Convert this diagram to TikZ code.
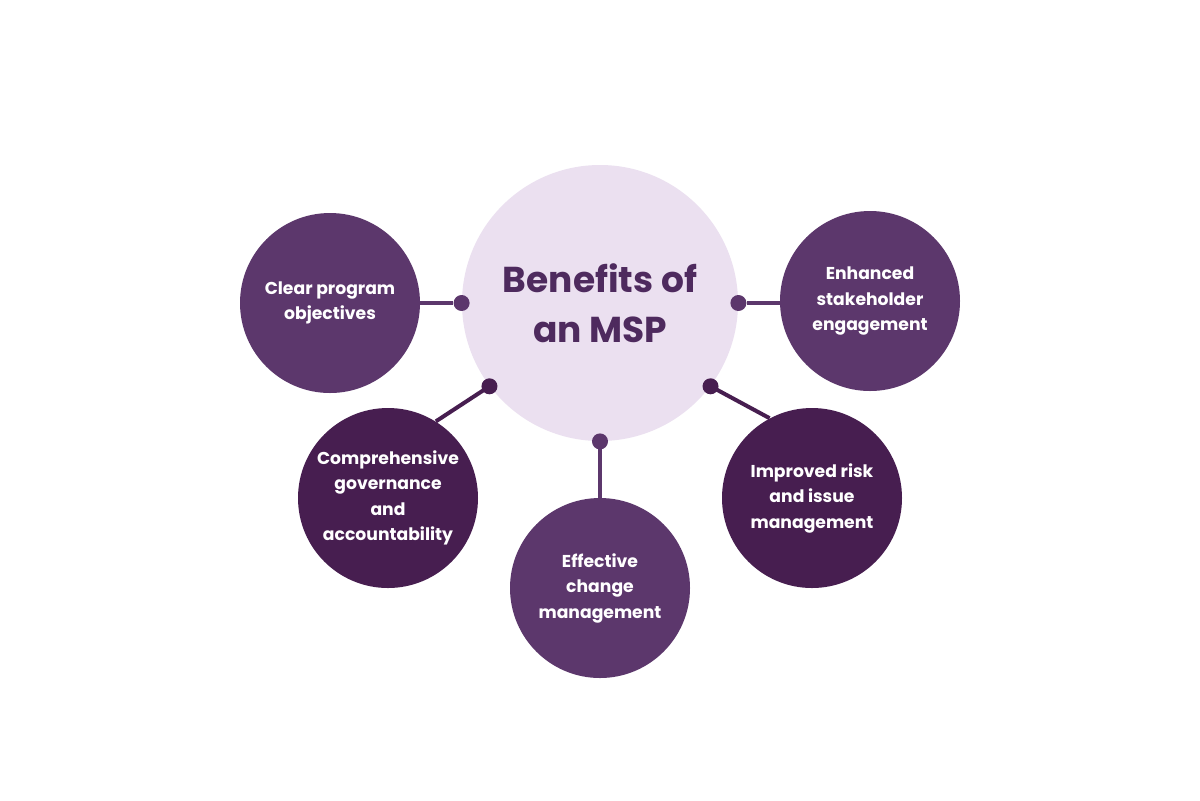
\documentclass[tikz,border=0pt]{standalone}
\usepackage{fontspec}
\setmainfont{Poppins}
\definecolor{pl}{HTML}{5C376C}
\definecolor{pd}{HTML}{471E50}
\definecolor{cen}{HTML}{EBE0F0}
\definecolor{ttl}{HTML}{4E2A5E}
\begin{document}
\begin{tikzpicture}[x=0.5pt,y=-0.5pt,
  outer/.style={circle, minimum size=90pt, inner sep=0pt, text=white,
    font=\fontsize{8.6}{12.75}\selectfont\bfseries, align=center},
  dotn/.style={circle, minimum size=8pt, inner sep=0pt},
  conn/.style={line width=2pt}]
\useasboundingbox[fill=white] (0,0) rectangle (1200,800);
% center
\node[circle, fill=cen, minimum size=138pt, inner sep=0pt, text=ttl,
  font=\fontsize{18}{25}\selectfont\bfseries, align=center] (c) at (600,303) {Benefits of\\an MSP};
% outer circles
\node[outer, fill=pl] (clear) at (330,303) {Clear program\\objectives};
\node[outer, fill=pl] (enh) at (870,301) {Enhanced\\stakeholder\\engagement};
\node[outer, fill=pd] (comp) at (388,498) {Comprehensive\\governance\\and\\accountability};
\node[outer, fill=pl] (eff) at (600,588) {Effective\\change\\management};
\node[outer, fill=pd] (imp) at (812,498) {Improved risk\\and issue\\management};
% dots
\node[dotn, fill=pl] (d1) at (c.180) {};
\node[dotn, fill=pl] (d2) at (c.0) {};
\node[dotn, fill=pd] (d3) at (c.217) {};
\node[dotn, fill=pl] (d4) at (c.-90) {};
\node[dotn, fill=pd] (d5) at (c.-37) {};
% connectors
\draw[conn, pl] (d1) -- (clear);
\draw[conn, pl] (d2) -- (enh.west |- d2);
\draw[conn, pd] (d3.center) -- (comp.58);
\draw[conn, pl] (d4.center) -- (eff);
\draw[conn, pd] (d5.center) -- (imp.118);
\end{tikzpicture}
\end{document}
